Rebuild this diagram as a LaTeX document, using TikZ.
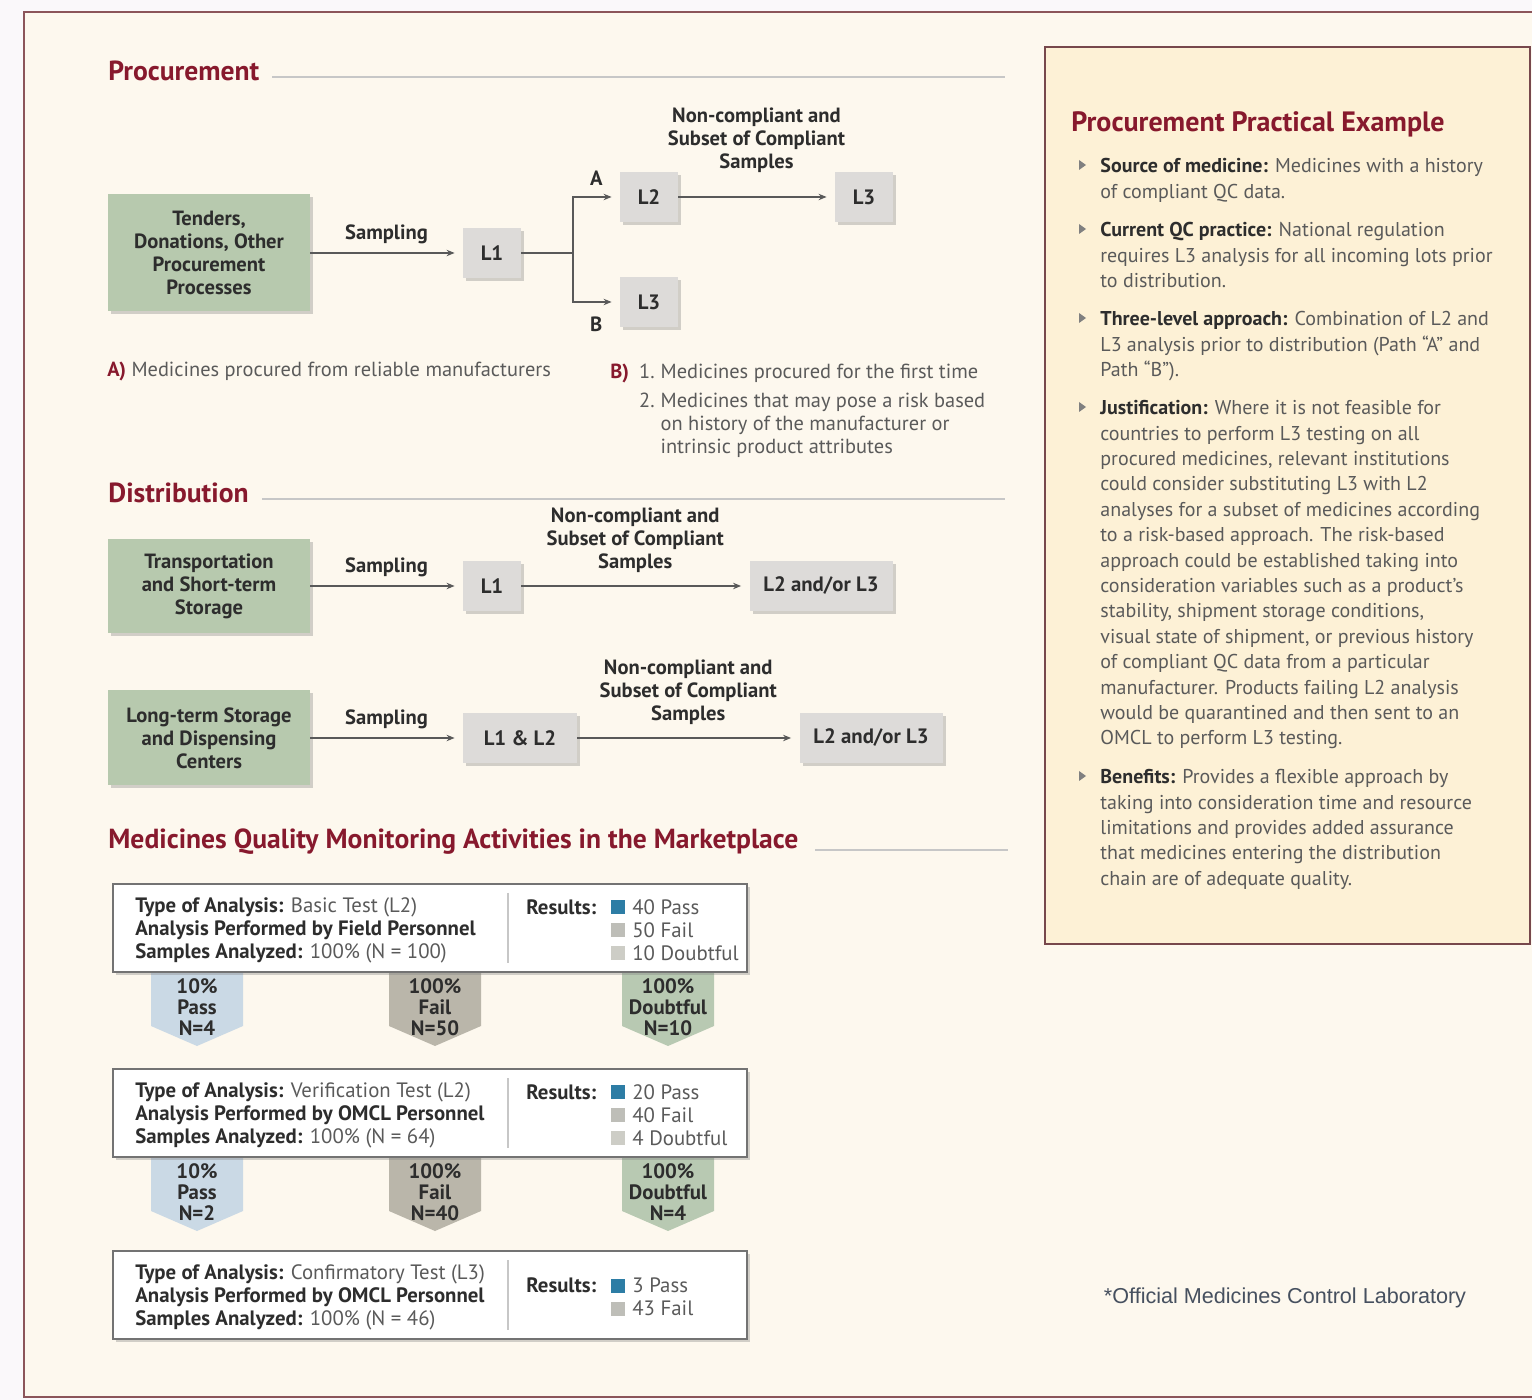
\documentclass[tikz,border=0pt]{standalone}
\usepackage{fontspec}
\setmainfont{PT Sans}
\newfontfamily\notefont{Liberation Sans}
\usetikzlibrary{arrows.meta,shadows,positioning}

\definecolor{outbg}{RGB}{250,248,250}
\definecolor{pagebg}{RGB}{253,248,238}
\definecolor{framered}{RGB}{140,85,90}
\definecolor{headred}{RGB}{135,25,45}
\definecolor{panelbg}{RGB}{253,241,214}
\definecolor{sage}{RGB}{183,201,174}
\definecolor{lvlgray}{RGB}{221,219,217}
\definecolor{txtdark}{RGB}{45,45,45}
\definecolor{txtgray}{RGB}{90,90,90}
\definecolor{passbg}{RGB}{202,217,229}
\definecolor{failbg}{RGB}{186,182,170}
\definecolor{doubtbg}{RGB}{184,201,178}
\definecolor{passsq}{RGB}{45,125,165}
\definecolor{failsq}{RGB}{190,190,184}
\definecolor{doubtsq}{RGB}{205,205,198}
\definecolor{notegray}{RGB}{70,80,95}

\newcommand\sq[1]{\textcolor{#1}{\rule{7pt}{7pt}}\hspace{3.5pt}}
\newcommand\bt[1]{\textbf{\color{txtdark}#1}}
% banner arrow below a result box: name, centre x, top y, colour, text
\newcommand\banner[5]{%
   \fill[#4] (#2-46,#3) -- (#2+46,#3) -- (#2+46,#3+54) -- (#2,#3+74) -- (#2-46,#3+54) -- cycle;
   \node (#1) [lab, font=\fontsize{10.4}{10.5}\selectfont\bfseries] at (#2,#3+35) {#5};}

\begin{document}
\begin{tikzpicture}[x=0.5pt,y=-0.5pt]
   \tikzstyle{every node}=[text=txtdark, font=\fontsize{10}{11.5}\selectfont]
   \tikzstyle{head}=[anchor=west, inner sep=0, text=headred, font=\fontsize{13.8}{16}\selectfont\bfseries]
   \tikzstyle{rule}=[draw=black!22, line width=0.6pt]
   \tikzstyle{sh}=[drop shadow={shadow xshift=1.5pt, shadow yshift=-1.5pt, opacity=0.35}]
   \tikzstyle{src}=[sh, fill=sage, minimum width=101pt, align=center, font=\fontsize{10.3}{11.5}\selectfont\bfseries]
   \tikzstyle{lvl}=[sh, fill=lvlgray, minimum width=29pt, minimum height=25pt, font=\fontsize{10.4}{11.5}\selectfont\bfseries]
   \tikzstyle{ar}=[draw=black!65, line width=0.6pt, -{Stealth[length=4pt,width=3.2pt]}, shorten >=4pt]
   \tikzstyle{ln}=[draw=black!65, line width=0.6pt]
   \tikzstyle{lab}=[align=center, font=\fontsize{10.3}{11.5}\selectfont\bfseries]
   \tikzstyle{note}=[anchor=west, text=txtgray, inner sep=0, font=\fontsize{10.2}{11.5}\selectfont]
   \tikzstyle{res}=[sh, draw=black!55, fill=white, line width=0.8pt, minimum width=317pt, minimum height=44pt]
   \tikzstyle{info}=[anchor=west, align=left, inner sep=0, text=txtgray, font=\fontsize{10.4}{11.5}\selectfont]
   \tikzstyle{bul}=[anchor=north west, align=left, inner sep=0, text=txtgray, font=\fontsize{10}{12.7}\selectfont]

   \clip (0,0) rectangle (1532,1400);
   \fill[outbg] (0,0) rectangle (1532,1400);
   \draw[framered, fill=pagebg, line width=1.2pt] (24,12) rectangle (1560,1397);

   % procurement
   \node (hproc) [head] at (108,71) {Procurement};
   \draw[rule] (272,77) -- (1005,77);
   \node (tend) [src, minimum height=58.5pt] at (209,253) {Tenders,\\Donations, Other\\Procurement\\Processes};
   \node (pl1) [lvl] at (492,253) {L1};
   \node (pl2) [lvl] at (649,197) {L2};
   \node (pl3b) [lvl] at (649,302) {L3};
   \node (pl3a) [lvl] at (864,197) {L3};
   \coordinate (fork) at (573,253);
   \draw[ar] (tend) -- node[lab, above=1pt] (psamp) {Sampling} (pl1);
   \draw[ln] (pl1) -- (fork);
   \draw[ar] (fork) |- node[lab, pos=0.75, above=2pt] (pa) {A} (pl2);
   \draw[ar] (fork) |- node[lab, pos=0.75, below=4pt] (pb) {B} (pl3b);
   \draw[ar] (pl2) -- node[lab, above=8.5pt] (pnc) {Non-compliant and\\Subset of Compliant\\Samples} (pl3a);
   \node (na) [note] at (107,371) {\textbf{\color{headred}A)}\ Medicines procured from reliable manufacturers};
   \node (nb) [note, anchor=north west] at (610,362) {\begin{tabular}{@{}l@{\hspace{5pt}}l@{\hspace{3pt}}l@{}}
      \textbf{\color{headred}B)} & 1. & Medicines procured for the first time\\[3pt]
      & 2. & Medicines that may pose a risk based\\
      & & on history of the manufacturer or\\
      & & intrinsic product attributes\end{tabular}};

   % distribution
   \node (hdist) [head] at (108,493) {Distribution};
   \draw[rule] (262,499) -- (1005,499);
   \node (trans) [src, minimum height=47pt] at (209,586) {Transportation\\and Short-term\\Storage};
   \node (dl1) [lvl] at (492,586) {L1};
   \node (dl23a) [lvl, minimum width=71.5pt] at (821,586) {L2 and/or L3};
   \draw[ar] (trans) -- node[lab, above=1pt] (dsamp1) {Sampling} (dl1);
   \draw[ar] (dl1) -- node[lab, above=3pt] (dnc1) {Non-compliant and\\Subset of Compliant\\Samples} (dl23a);
   \node (long) [src, minimum height=47.5pt] at (209,738) {Long-term Storage\\and Dispensing\\Centers};
   \node (dl12) [lvl, minimum width=57pt] at (520,738) {L1 \& L2};
   \node (dl23b) [lvl, minimum width=71.5pt] at (871,738) {L2 and/or L3};
   \draw[ar] (long) -- node[lab, above=1pt] (dsamp2) {Sampling} (dl12);
   \draw[ar] (dl12) -- node[lab, above=3pt] (dnc2) {Non-compliant and\\Subset of Compliant\\Samples} (dl23b);

   % monitoring in the marketplace
   \node (hmon) [head] at (108,842) {Medicines Quality Monitoring Activities in the Marketplace};
   \draw[rule] (815,850) -- (1008,850);
   \banner{pass1}{197}{972}{passbg}{10\%\\Pass\\N=4}
   \banner{fail1}{435}{972}{failbg}{100\%\\Fail\\N=50}
   \banner{doubt1}{668}{972}{doubtbg}{100\%\\Doubtful\\N=10}
   \banner{pass2}{197}{1157}{passbg}{10\%\\Pass\\N=2}
   \banner{fail2}{435}{1157}{failbg}{100\%\\Fail\\N=40}
   \banner{doubt2}{668}{1157}{doubtbg}{100\%\\Doubtful\\N=4}

   \node (box1) [res] at (430,928) {};
   \node (box1t) [info] at (135,930) {\bt{Type of Analysis:} Basic Test (L2)\\\bt{Analysis Performed by Field Personnel}\\\bt{Samples Analyzed:} 100\% (N = 100)};
   \draw[rule] (508,893) -- (508,963);
   \node (box1r) [info] at (526,907) {\bt{Results:}};
   \node (box1l) [info] at (611,930) {\sq{passsq}40 Pass\\\sq{failsq}50 Fail\\\sq{doubtsq}10 Doubtful};

   \node (box2) [res] at (430,1113) {};
   \node (box2t) [info] at (135,1115) {\bt{Type of Analysis:} Verification Test (L2)\\\bt{Analysis Performed by OMCL Personnel}\\\bt{Samples Analyzed:} 100\% (N = 64)};
   \draw[rule] (508,1078) -- (508,1148);
   \node (box2r) [info] at (526,1092) {\bt{Results:}};
   \node (box2l) [info] at (611,1115) {\sq{passsq}20 Pass\\\sq{failsq}40 Fail\\\sq{doubtsq}4 Doubtful};

   \node (box3) [res] at (430,1295) {};
   \node (box3t) [info] at (135,1297) {\bt{Type of Analysis:} Confirmatory Test (L3)\\\bt{Analysis Performed by OMCL Personnel}\\\bt{Samples Analyzed:} 100\% (N = 46)};
   \draw[rule] (508,1260) -- (508,1330);
   \node (box3r) [info] at (526,1285) {\bt{Results:}};
   \node (box3l) [info] at (611,1297) {\sq{passsq}3 Pass\\\sq{failsq}43 Fail};

   % practical example panel
   \node (panel) [draw=framered!85!black, fill=panelbg, line width=1.2pt, minimum width=242.5pt, minimum height=448.5pt] at (1287.5,495.5) {};
   \node (phead) [head, font=\fontsize{14}{16}\selectfont\bfseries] at (1071,124) {Procurement Practical Example};
   \foreach \by in {165,229,318,407,776}
      \fill[black!50] (1079,\by-5) -- (1086,\by) -- (1079,\by+5) -- cycle;
   \node (bl1) [bul] at (1100,158) {\bt{Source of medicine:} Medicines with a history\\of compliant QC data.};
   \node (bl2) [bul] at (1100,222) {\bt{Current QC practice:} National regulation\\requires L3 analysis for all incoming lots prior\\to distribution.};
   \node (bl3) [bul] at (1100,311) {\bt{Three-level approach:} Combination of L2 and\\L3 analysis prior to distribution (Path “A” and\\Path “B”).};
   \node (bl4) [bul] at (1100,400) {\bt{Justification:} Where it is not feasible for\\countries to perform L3 testing on all\\procured medicines, relevant institutions\\could consider substituting L3 with L2\\analyses for a subset of medicines according\\to a risk-based approach. The risk-based\\approach could be established taking into\\consideration variables such as a product’s\\stability, shipment storage conditions,\\visual state of shipment, or previous history\\of compliant QC data from a particular\\manufacturer. Products failing L2 analysis\\would be quarantined and then sent to an\\OMCL to perform L3 testing.};
   \node (bl5) [bul] at (1100,769) {\bt{Benefits:} Provides a flexible approach by\\taking into consideration time and resource\\limitations and provides added assurance\\that medicines entering the distribution\\chain are of adequate quality.};
   \node (omcl) [text=notegray, font=\notefont\fontsize{10.8}{12}\selectfont] at (1285,1298) {*Official Medicines Control Laboratory};
\end{tikzpicture}
\end{document}
